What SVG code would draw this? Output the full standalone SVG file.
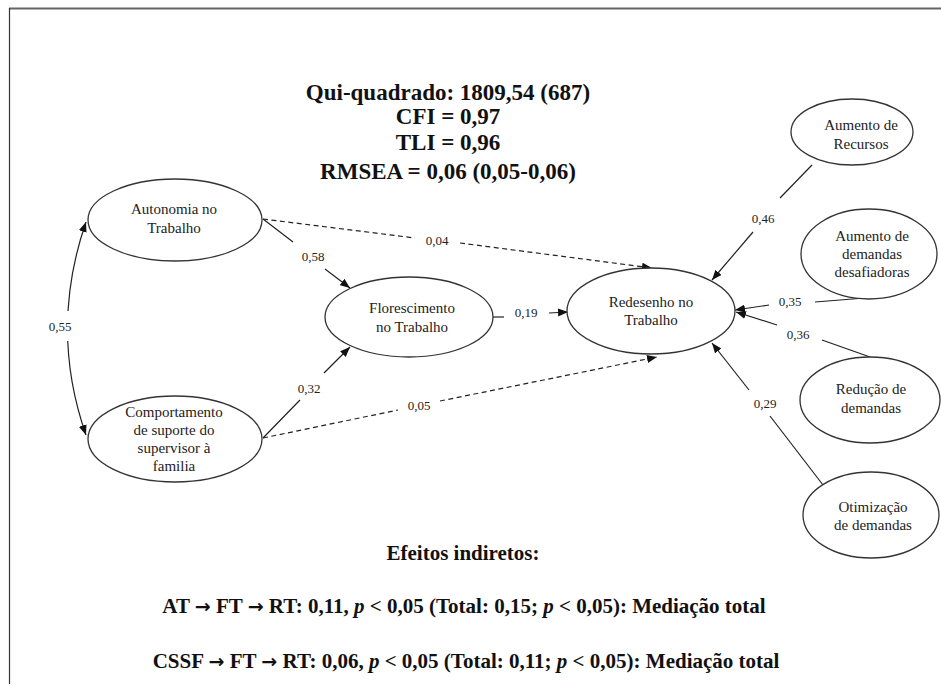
<svg xmlns="http://www.w3.org/2000/svg" width="941" height="686" viewBox="0 0 941 686">
<style>
.node ellipse{fill:#fff;stroke:#333;stroke-width:1.3}
.nt{font-family:'Liberation Serif','DejaVu Serif',serif;font-size:15px;fill:#222;text-anchor:middle}
.el{font-family:'Liberation Serif','DejaVu Serif',serif;font-size:13px;fill:#222;text-anchor:middle}
.ln{stroke:#222;stroke-width:1.2;fill:none}
.dash{stroke-dasharray:5 3.5}
.stat{font-family:'Liberation Serif','DejaVu Serif',serif;font-size:23px;font-weight:bold;fill:#111;text-anchor:middle}
.ind{font-family:'Liberation Serif','DejaVu Serif',serif;font-size:21px;font-weight:bold;fill:#111;text-anchor:middle}
.arr{font-family:'DejaVu Sans',sans-serif;font-weight:bold;font-size:19px}
</style>
<defs>
<marker id="ah" viewBox="0 0 10 8" refX="10" refY="4" markerWidth="10" markerHeight="8" markerUnits="userSpaceOnUse" orient="auto-start-reverse">
<path d="M0,0 L10,4 L0,8 Z" fill="#111"/>
</marker>
</defs>
<rect x="0" y="0" width="941" height="686" fill="#fff"/>
<g id="frame">
<line x1="9" y1="8.5" x2="941" y2="8.5" stroke="#666" stroke-width="2"/>
<line x1="9.5" y1="8" x2="9.5" y2="684" stroke="#333" stroke-width="1.2"/>
</g>
<g id="fit-stats">
<text class="stat" x="448" y="100">Qui-quadrado: 1809,54 (687)</text>
<text class="stat" x="448" y="124">CFI = 0,97</text>
<text class="stat" x="448" y="150">TLI = 0,96</text>
<text class="stat" x="448" y="179">RMSEA = 0,06 (0,05-0,06)</text>
</g>
<g id="connectors">
<path class="ln" d="M86,222 Q49,329 86,435" marker-start="url(#ah)" marker-end="url(#ah)"/>
<rect x="50" y="311" width="22" height="30" fill="#fff"/>
<text class="el" x="60" y="331">0,55</text>
<line class="ln" x1="263" y1="219" x2="293" y2="242"/>
<line class="ln" x1="325" y1="269" x2="350" y2="288" marker-end="url(#ah)"/>
<text class="el" x="313" y="261">0,58</text>
<line class="ln" x1="263" y1="438" x2="300" y2="400"/>
<line class="ln" x1="324" y1="373" x2="350" y2="347" marker-end="url(#ah)"/>
<text class="el" x="309" y="393">0,32</text>
<line class="ln" x1="493" y1="317" x2="504" y2="317"/>
<line class="ln" x1="549" y1="313" x2="568" y2="312" marker-end="url(#ah)"/>
<text class="el" x="526" y="317">0,19</text>
<line class="ln dash" x1="263" y1="219" x2="415" y2="238"/>
<line class="ln dash" x1="460" y1="243" x2="652" y2="268" marker-end="url(#ah)"/>
<text class="el" x="437" y="245">0,04</text>
<line class="ln dash" x1="263" y1="438" x2="398" y2="410"/>
<line class="ln dash" x1="440" y1="401" x2="657" y2="357" marker-end="url(#ah)"/>
<text class="el" x="419" y="410">0,05</text>
<line class="ln" x1="812" y1="165" x2="780" y2="198"/>
<line class="ln" x1="753" y1="232" x2="712" y2="280" marker-end="url(#ah)"/>
<text class="el" x="763" y="223">0,46</text>
<line class="ln" x1="865" y1="298" x2="815" y2="302"/>
<line class="ln" x1="769" y1="305" x2="735" y2="310" marker-end="url(#ah)"/>
<text class="el" x="790" y="306">0,35</text>
<line class="ln" x1="870" y1="357" x2="822" y2="340"/>
<line class="ln" x1="777" y1="325" x2="736" y2="312" marker-end="url(#ah)"/>
<text class="el" x="798" y="339">0,36</text>
<line class="ln" x1="823" y1="485" x2="770" y2="416"/>
<line class="ln" x1="749" y1="390" x2="712" y2="343" marker-end="url(#ah)"/>
<text class="el" x="765" y="408">0,29</text>
</g>
<g id="node-autonomia" class="node">
<ellipse cx="175" cy="220" rx="87" ry="41"/>
<text class="nt" x="174" y="214">Autonomia  no</text>
<text class="nt" x="174" y="233">Trabalho</text>
</g>
<g id="node-comportamento" class="node">
<ellipse cx="175" cy="439" rx="87" ry="43"/>
<text class="nt" x="174" y="417">Comportamento</text>
<text class="nt" x="174" y="435">de suporte  do</text>
<text class="nt" x="174" y="453">supervisor  à</text>
<text class="nt" x="174" y="471">familia</text>
</g>
<g id="node-florescimento" class="node">
<ellipse cx="409" cy="317" rx="84" ry="40"/>
<text class="nt" x="412" y="313">Florescimento</text>
<text class="nt" x="412" y="332">no Trabalho</text>
</g>
<g id="node-redesenho" class="node">
<ellipse cx="651" cy="311" rx="84" ry="43"/>
<text class="nt" x="651" y="307">Redesenho  no</text>
<text class="nt" x="651" y="325">Trabalho</text>
</g>
<g id="node-aumento-recursos" class="node">
<ellipse cx="852" cy="132" rx="61" ry="33"/>
<text class="nt" x="861" y="130">Aumento  de</text>
<text class="nt" x="861" y="149">Recursos</text>
</g>
<g id="node-aumento-demandas" class="node">
<ellipse cx="869" cy="254" rx="68" ry="45"/>
<text class="nt" x="872" y="241">Aumento  de</text>
<text class="nt" x="872" y="259">demandas</text>
<text class="nt" x="872" y="277">desafiadoras</text>
</g>
<g id="node-reducao" class="node">
<ellipse cx="870" cy="400" rx="70" ry="43"/>
<text class="nt" x="871" y="394">Redução  de</text>
<text class="nt" x="871" y="413">demandas</text>
</g>
<g id="node-otimizacao" class="node">
<ellipse cx="871" cy="515" rx="68" ry="43"/>
<text class="nt" x="873" y="512">Otimização</text>
<text class="nt" x="873" y="530">de demandas</text>
</g>
<g id="indirect-effects">
<text class="ind" x="463" y="560">Efeitos indiretos:</text>
<text class="ind" x="464" y="613">AT <tspan class="arr">→</tspan> FT <tspan class="arr">→</tspan> RT: 0,11, <tspan font-style="italic">p</tspan> &lt; 0,05 (Total: 0,15; <tspan font-style="italic">p</tspan> &lt; 0,05): Mediação total</text>
<text class="ind" x="466" y="668">CSSF <tspan class="arr">→</tspan> FT <tspan class="arr">→</tspan> RT: 0,06, <tspan font-style="italic">p</tspan> &lt; 0,05 (Total: 0,11; <tspan font-style="italic">p</tspan> &lt; 0,05): Mediação total</text>
</g>
</svg>
